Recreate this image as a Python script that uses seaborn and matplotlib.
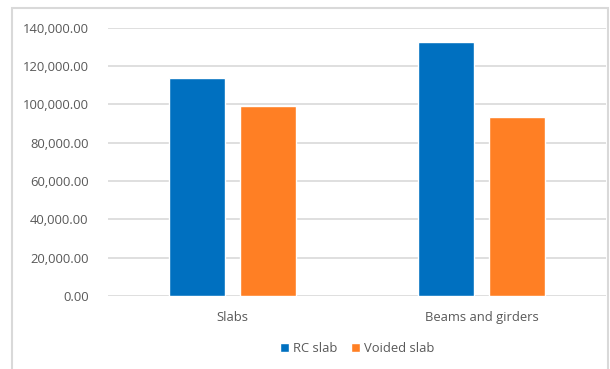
import matplotlib
matplotlib.use("Agg")
import matplotlib.pyplot as plt
from matplotlib.patches import Rectangle
import seaborn as sns
import pandas as pd

categories = ["Slabs", "Beams and girders"]
series = ["RC slab", "Voided slab"]
rc_slab = [113500, 132300]
voided_slab = [99250, 93350]
y_ticks = [0, 20000, 40000, 60000, 80000, 100000, 120000, 140000]

df = pd.DataFrame({
    "Element": categories * 2,
    "Series": [series[0]] * len(categories) + [series[1]] * len(categories),
    "Value": rc_slab + voided_slab,
})

sns.set_theme(style="white")
plt.rcParams["font.family"] = ["Open Sans", "DejaVu Sans"]

W, H = 610, 369
fig = plt.figure(figsize=(W / 100, H / 100), dpi=100)
ax = fig.add_axes([108 / W, 1 - 296 / H, (606 - 108) / W, (296 - 27.7) / H])

palette = {"RC slab": "#0070C0", "Voided slab": "#FF7F24"}
sns.barplot(data=df, x="Element", y="Value", hue="Series", palette=palette,
            width=0.57, gap=0.21, saturation=1, ax=ax, legend=True, zorder=3)

ax.set_ylim(0, 140000)
ax.set_xlim(-0.5, 1.5)
ax.set_yticks(y_ticks)
ax.set_yticklabels([f"{v:,.2f}" for v in y_ticks])
ax.yaxis.grid(True, color="#D9D9D9", linewidth=1.2, zorder=0)
ax.set_axisbelow(True)
for s in ax.spines.values():
    s.set_visible(False)
ax.tick_params(axis="both", length=0, labelsize=9.4, labelcolor="#595959")
ax.tick_params(axis="y", pad=14)
ax.tick_params(axis="x", pad=11)
ax.set_xlabel("")
ax.set_ylabel("")

ax.legend(loc="center", bbox_to_anchor=(0.5, -0.195), ncol=2, frameon=False,
          fontsize=9.4, labelcolor="#595959", handlelength=0.7, handleheight=0.7,
          handletextpad=0.3, columnspacing=1.0)

# light frame around the chart area
fig.patches.append(Rectangle((12 / W, -0.1), (608 - 12) / W, 1.1 - 8 / H,
                             transform=fig.transFigure, fill=False,
                             edgecolor="#D9D9D9", linewidth=1.5))

fig.savefig("out.png", dpi=100)
